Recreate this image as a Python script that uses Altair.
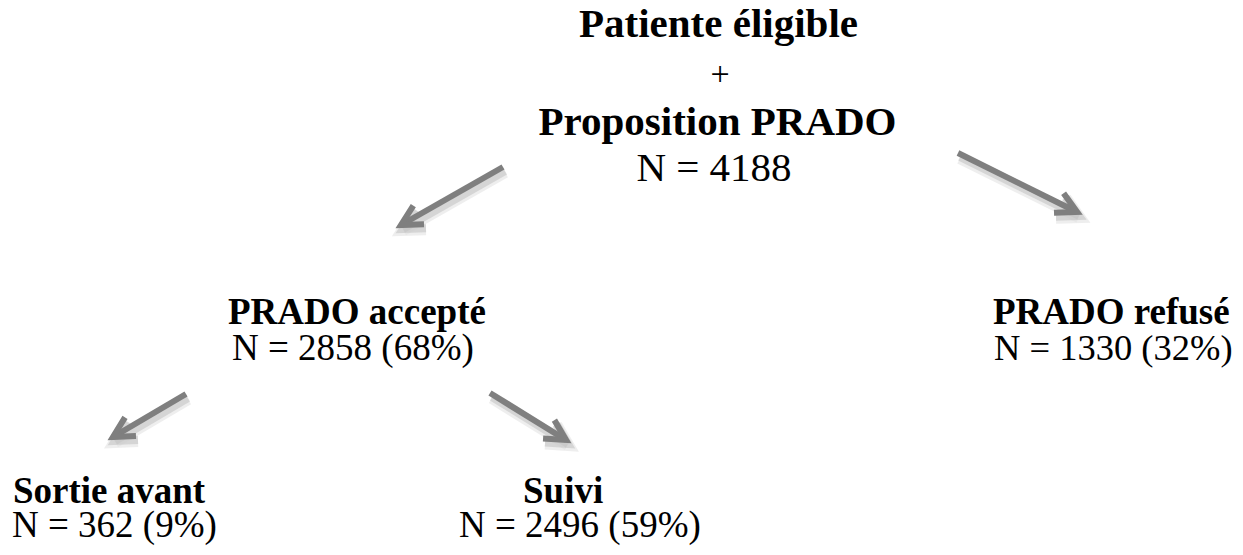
import altair as alt
import pandas as pd
import numpy as np

# ---- data ----
titles = ["Patiente éligible", "Proposition PRADO", "PRADO accepté", "PRADO refusé", "Sortie avant", "Suivi"]
counts = [4188, 2858, 1330, 362, 2496]
percents = [None, 68, 32, 9, 59]

# ---- layout (pixel positions in the page) ----
W, H = 1227, 539
X0, Y0 = 8, 8

center_bold = pd.DataFrame({
    "text": [titles[0], titles[1]],
    "x": [718.5, 717.5], "y": [37, 135], "size": [41, 41]})
center_norm = pd.DataFrame({
    "text": ["+", f"N = {counts[0]}"],
    "x": [720, 714], "y": [85, 181], "size": [34, 41]})
left_bold = pd.DataFrame({
    "text": [titles[2], titles[3], titles[4], titles[5]],
    "x": [228, 993, 13, 523], "y": [324, 324, 503, 503], "size": [37, 37, 37, 37]})
left_norm = pd.DataFrame({
    "text": [f"N = {counts[i]} ({percents[i]}%)" for i in range(1, 5)],
    "x": [232, 994, 12, 459], "y": [360, 360, 537, 537], "size": [37, 36.5, 37, 37]})

arrow_x0 = [503, 958, 186, 490]
arrow_y0 = [167, 153, 394, 393]
arrow_x1 = [401, 1077, 113, 566]
arrow_y1 = [225, 212, 437, 440]

# arrow geometry
shaft = pd.DataFrame({"x": arrow_x0, "y": arrow_y0, "x2": arrow_x1, "y2": arrow_y1, "id": range(4)})
head_rows = []
L, ang = 23.0, np.deg2rad(28)
for i in range(4):
    dx, dy = arrow_x0[i] - arrow_x1[i], arrow_y0[i] - arrow_y1[i]
    n = np.hypot(dx, dy)
    ux, uy = dx / n, dy / n
    for k, s in enumerate([1, 0, -1]):
        if s == 0:
            px, py = arrow_x1[i], arrow_y1[i]
        else:
            c, sn = np.cos(s * ang), np.sin(s * ang)
            rx, ry = ux * c - uy * sn, ux * sn + uy * c
            px, py = arrow_x1[i] + L * rx, arrow_y1[i] + L * ry
        head_rows.append({"id": i, "o": k, "x": px, "y": py})
head = pd.DataFrame(head_rows)

xs = alt.Scale(domain=[X0, X0 + W], nice=False, zero=False)
ys = alt.Scale(domain=[Y0, Y0 + H], nice=False, zero=False, reverse=True)


def text_layer(df, align, weight):
    return alt.Chart(df).mark_text(
        align=align, baseline="alphabetic", font="Liberation Serif",
        fontWeight=weight, color="black"
    ).encode(
        x=alt.X("x:Q", scale=xs, axis=None),
        y=alt.Y("y:Q", scale=ys, axis=None),
        text="text:N",
        size=alt.Size("size:Q", scale=None, legend=None),
    )


def arrow_layers(off, color, width, opacity):
    sh = shaft.copy()
    sh[["x", "x2"]] += off[0]
    sh[["y", "y2"]] += off[1]
    hd = head.copy()
    hd["x"] += off[0]
    hd["y"] += off[1]
    a = alt.Chart(sh).mark_rule(color=color, strokeWidth=width, opacity=opacity, strokeCap="butt").encode(
        x=alt.X("x:Q", scale=xs, axis=None), y=alt.Y("y:Q", scale=ys, axis=None),
        x2="x2:Q", y2="y2:Q")
    b = alt.Chart(hd).mark_line(color=color, strokeWidth=width, opacity=opacity,
                                strokeJoin="miter", strokeCap="butt").encode(
        x=alt.X("x:Q", scale=xs, axis=None), y=alt.Y("y:Q", scale=ys, axis=None),
        detail="id:N", order="o:Q")
    return [a, b]


layers = []
layers += arrow_layers((2, 5), "#e2e2e2", 12, 0.6)
layers += arrow_layers((2, 4), "#c4c4c4", 8, 0.6)
layers += arrow_layers((0, 0), "#7f7f7f", 6, 1.0)
layers += [
    text_layer(center_bold, "center", "bold"),
    text_layer(center_norm, "center", "normal"),
    text_layer(left_bold, "left", "bold"),
    text_layer(left_norm, "left", "normal"),
]

chart = alt.layer(*layers).properties(
    width=W, height=H, padding=0, autosize=alt.AutoSizeParams(type="none"),
    background="white"
).configure_view(stroke=None)

chart.save("out.html", embed_options={"renderer": "svg", "actions": False})
